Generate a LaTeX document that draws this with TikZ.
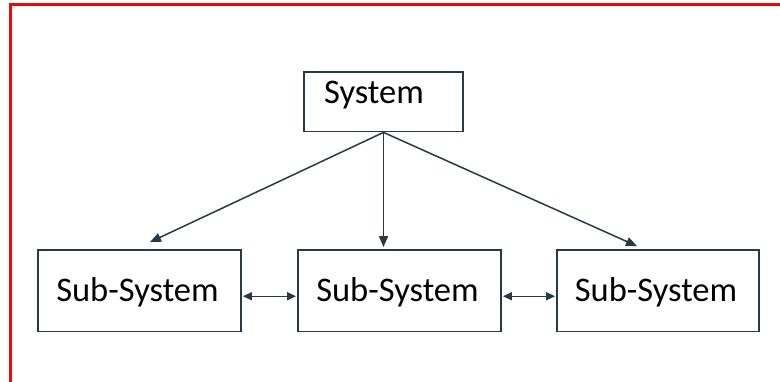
\documentclass[tikz,border=0pt]{standalone}
\usepackage{fontspec}
\setmainfont{Carlito}
\usetikzlibrary{arrows.meta,calc}
\definecolor{boxline}{RGB}{38,58,71}
\tikzset{
  box/.style={draw=boxline, line width=1.8bp, inner sep=0pt},
  lbl/.style={font=\fontsize{34.5bp}{40bp}\selectfont, text=black, inner sep=0pt, anchor=base},
  arr/.style={draw=boxline, line width=1.5bp, -{Triangle[length=11bp,width=9bp]}},
  darr/.style={draw=boxline, line width=1.5bp, {Triangle[length=9bp,width=8bp]}-{Triangle[length=9bp,width=8bp]}},
  frame/.style={draw=red, line width=2.5bp}
}
\begin{document}
\begin{tikzpicture}[x=1bp,y=-1bp]
\useasboundingbox (0,0) rectangle (780,381);
% red frame (top and left only)
\coordinate (fbl) at (10.5,382);
\coordinate (ftl) at (10.5,4.5);
\coordinate (ftr) at (781,4.5);
\draw[frame] (fbl) -- (ftl) -- (ftr);
% boxes
\node[box, minimum width=159bp, minimum height=59.5bp] (sys) at (383.5,101.75) {};
\node[box, minimum width=203bp, minimum height=81.5bp] (l) at (139.5,290.75) {};
\node[box, minimum width=203bp, minimum height=81.5bp] (m) at (399.5,290.75) {};
\node[box, minimum width=202bp, minimum height=81.5bp] (r) at (658,290.75) {};
% labels
\node[lbl] (systxt) at (374,103.3) {System};
\node[lbl] (ltxt) at (137.5,301.7) {Sub-System};
\node[lbl] (mtxt) at (397.5,301.7) {Sub-System};
\node[lbl] (rtxt) at (656,301.7) {Sub-System};
% arrows from system
\draw[arr] (sys.south) -- ($(l.north)+(10.5,-7)$);
\draw[arr] (sys.south) -- ($(m.north)+(-16,-2)$);
\draw[arr] (sys.south) -- ($(r.north)+(-21,-3)$);
% horizontal double arrows
\draw[darr] ($(l.east)+(1,5.5)$) -- ($(m.west)+(-1,5.5)$);
\draw[darr] ($(m.east)+(1,5.5)$) -- ($(r.west)+(-1,5.5)$);
\end{tikzpicture}
\end{document}
